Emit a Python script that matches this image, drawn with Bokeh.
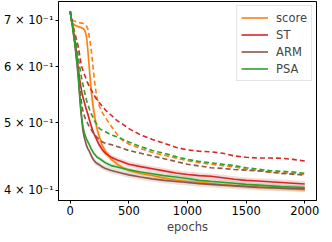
from bokeh.plotting import figure
from bokeh.models import FixedTicker, Legend, LegendItem, Range1d
from bokeh.embed import file_html
from bokeh.resources import INLINE

epochs = [0, 10, 20, 30, 40, 50, 60, 70, 80, 90, 100, 110, 120, 130, 140, 150, 160, 170, 180, 190,
          200, 210, 220, 230, 240, 250, 275, 300, 350, 400, 450, 500, 600, 700, 800, 900, 1000,
          1100, 1200, 1300, 1400, 1500, 1600, 1700, 1800, 1900, 2000]

score_solid = [0.72, 0.70, 0.693, 0.69, 0.688, 0.687, 0.686, 0.685, 0.684, 0.683, 0.682, 0.681, 0.678,
               0.672, 0.66, 0.635, 0.605, 0.578, 0.553, 0.535, 0.52, 0.508, 0.498, 0.489, 0.482, 0.476,
               0.463, 0.455, 0.443, 0.436, 0.431, 0.427, 0.423, 0.42, 0.4165, 0.414, 0.412, 0.4105,
               0.409, 0.4075, 0.4065, 0.4055, 0.4045, 0.4035, 0.4025, 0.4017, 0.401]
score_dashed = [0.72, 0.705, 0.70, 0.698, 0.697, 0.696, 0.695, 0.694, 0.694, 0.693, 0.693, 0.692, 0.691,
                0.69, 0.686, 0.68, 0.667, 0.65, 0.632, 0.61, 0.588, 0.568, 0.553, 0.541, 0.533, 0.527,
                0.516, 0.508, 0.494, 0.481, 0.471, 0.466, 0.459, 0.453, 0.449, 0.445, 0.441, 0.438,
                0.436, 0.434, 0.432, 0.429, 0.427, 0.425, 0.424, 0.423, 0.4215]
st_solid = [0.72, 0.705, 0.69, 0.672, 0.655, 0.635, 0.615, 0.595, 0.578, 0.563, 0.551, 0.542, 0.535,
            0.527, 0.52, 0.514, 0.507, 0.50, 0.494, 0.488, 0.483, 0.479, 0.475, 0.471, 0.467, 0.464,
            0.457, 0.452, 0.446, 0.442, 0.439, 0.436, 0.4325, 0.4295, 0.4265, 0.4235, 0.4215, 0.42,
            0.419, 0.417, 0.415, 0.4135, 0.4125, 0.4115, 0.4105, 0.4095, 0.4085]
st_dashed = [0.72, 0.705, 0.69, 0.68, 0.67, 0.66, 0.65, 0.64, 0.625, 0.61, 0.599, 0.592, 0.586, 0.58,
             0.574, 0.569, 0.564, 0.56, 0.556, 0.552, 0.549, 0.545, 0.541, 0.538, 0.535, 0.533, 0.527,
             0.521, 0.512, 0.503, 0.497, 0.49, 0.48, 0.473, 0.467, 0.461, 0.457, 0.455, 0.454, 0.452,
             0.448, 0.446, 0.445, 0.445, 0.4445, 0.443, 0.4405]
arm_solid = [0.72, 0.70, 0.683, 0.663, 0.645, 0.622, 0.60, 0.575, 0.545, 0.52, 0.50, 0.485, 0.476,
             0.469, 0.463, 0.459, 0.456, 0.452, 0.448, 0.445, 0.442, 0.44, 0.438, 0.437, 0.436, 0.435,
             0.432, 0.43, 0.427, 0.425, 0.423, 0.421, 0.418, 0.4155, 0.4135, 0.412, 0.4105, 0.409,
             0.408, 0.407, 0.406, 0.405, 0.404, 0.4035, 0.403, 0.4025, 0.402]
arm_dashed = [0.72, 0.70, 0.685, 0.668, 0.65, 0.63, 0.61, 0.59, 0.567, 0.545, 0.528, 0.518, 0.511,
              0.506, 0.502, 0.498, 0.494, 0.491, 0.488, 0.485, 0.482, 0.48, 0.478, 0.476, 0.474, 0.472,
              0.469, 0.467, 0.465, 0.462, 0.459, 0.456, 0.452, 0.448, 0.444, 0.44, 0.436, 0.4335,
              0.431, 0.43, 0.4285, 0.4275, 0.4265, 0.425, 0.423, 0.422, 0.4205]
psa_solid = [0.72, 0.70, 0.685, 0.665, 0.648, 0.625, 0.605, 0.58, 0.55, 0.525, 0.505, 0.492, 0.484,
             0.478, 0.473, 0.469, 0.466, 0.462, 0.458, 0.455, 0.452, 0.45, 0.448, 0.446, 0.445, 0.444,
             0.441, 0.438, 0.434, 0.432, 0.43, 0.428, 0.425, 0.4225, 0.42, 0.418, 0.416, 0.4135,
             0.4122, 0.411, 0.4095, 0.408, 0.407, 0.406, 0.405, 0.4045, 0.4038]
psa_dashed = [0.72, 0.70, 0.69, 0.678, 0.665, 0.65, 0.635, 0.618, 0.602, 0.587, 0.575, 0.565, 0.555,
              0.545, 0.537, 0.531, 0.525, 0.519, 0.514, 0.51, 0.506, 0.502, 0.499, 0.496, 0.493, 0.49,
              0.487, 0.485, 0.48, 0.477, 0.473, 0.469, 0.462, 0.456, 0.452, 0.447, 0.443, 0.44, 0.438,
              0.436, 0.434, 0.431, 0.429, 0.427, 0.426, 0.425, 0.423]

# half-width of the shaded spread around the solid curves
score_spread = [0.004, 0.004, 0.004, 0.004, 0.004, 0.004, 0.004, 0.004, 0.004, 0.004, 0.004, 0.004,
                0.005, 0.006, 0.01, 0.015, 0.02, 0.022, 0.022, 0.02, 0.018, 0.016, 0.014, 0.012, 0.011,
                0.01, 0.008, 0.006, 0.004, 0.003, 0.003, 0.003, 0.003, 0.003, 0.003, 0.003, 0.003,
                0.003, 0.003, 0.003, 0.003, 0.003, 0.003, 0.003, 0.003, 0.003, 0.003]
st_spread = [0.005, 0.005, 0.005, 0.005, 0.006, 0.006, 0.006, 0.006, 0.006, 0.006, 0.006, 0.006,
             0.006, 0.006, 0.006, 0.006, 0.006, 0.006, 0.005, 0.005, 0.005, 0.005, 0.005, 0.005, 0.005,
             0.005, 0.005, 0.004, 0.004, 0.004, 0.004, 0.004, 0.004, 0.004, 0.004, 0.004, 0.004,
             0.004, 0.004, 0.004, 0.004, 0.004, 0.004, 0.004, 0.004, 0.004, 0.004]
arm_spread = [0.004] * len(epochs)
psa_spread = [0.003] * len(epochs)

names = ["score", "ST", "ARM", "PSA"]
colors = ["#ff7f0e", "#d62728", "#8c564b", "#2ca02c"]
solids = [score_solid, st_solid, arm_solid, psa_solid]
dashes = [score_dashed, st_dashed, arm_dashed, psa_dashed]
spreads = [score_spread, st_spread, arm_spread, psa_spread]

y_ticks = [0.4, 0.5, 0.6, 0.7]
y_labels = ["4 × 10⁻¹", "5 × 10⁻¹", "6 × 10⁻¹", "7 × 10⁻¹"]
x_ticks = [0, 500, 1000, 1500, 2000]

FONT = "DejaVu Sans"
FS = "11.5px"

p = figure(frame_width=258, frame_height=199, y_axis_type="log",
           x_range=Range1d(-100, 2100), y_range=Range1d(0.387, 0.744),
           output_backend="svg", toolbar_location=None,
           min_border_top=1, min_border_right=3, min_border_left=0, min_border_bottom=0)

p.xgrid.visible = False
p.ygrid.visible = False
p.outline_line_color = "black"
p.outline_line_width = 1
p.background_fill_color = "white"
p.border_fill_color = "white"

for ax in (p.xaxis[0], p.yaxis[0]):
    ax.axis_line_color = "black"
    ax.major_tick_line_color = "black"
    ax.major_tick_out = 3
    ax.major_tick_in = 0
    ax.minor_tick_out = 0
    ax.minor_tick_in = 0
    ax.major_label_text_font = FONT
    ax.major_label_text_font_size = FS
    ax.major_label_text_color = "black"
    ax.major_label_standoff = 2

p.xaxis.ticker = FixedTicker(ticks=x_ticks, minor_ticks=[])
p.yaxis.ticker = FixedTicker(ticks=y_ticks, minor_ticks=[])
p.yaxis.major_label_overrides = {t: l for t, l in zip(y_ticks, y_labels)}
p.xaxis.axis_label = "epochs"
p.xaxis.axis_label_text_font = FONT
p.xaxis.axis_label_text_font_size = FS
p.xaxis.axis_label_text_font_style = "normal"
p.xaxis.axis_label_standoff = 2

# shaded spread
for sol, spr, c in zip(solids, spreads, colors):
    lo = [v - s for v, s in zip(sol, spr)]
    hi = [v + s for v, s in zip(sol, spr)]
    p.varea(x=epochs, y1=lo, y2=hi, fill_color=c, fill_alpha=0.18)

items = []
for name, sol, das, c in zip(names, solids, dashes, colors):
    r = p.line(epochs, sol, line_color=c, line_width=1.6)
    p.line(epochs, das, line_color=c, line_width=1.6, line_dash="5 3")
    items.append(LegendItem(label=name, renderers=[r]))

legend = Legend(items=items, location="top_right")
legend.label_text_font = FONT
legend.label_text_font_size = FS
legend.border_line_color = "#cccccc"
legend.border_line_width = 1
legend.background_fill_color = "white"
legend.background_fill_alpha = 0.8
legend.glyph_width = 27
legend.glyph_height = 15
legend.label_height = 15
legend.spacing = 2
legend.padding = 4
legend.margin = 4
legend.label_standoff = 8
p.add_layout(legend)

open("out.html", "w").write(file_html(p, INLINE))
